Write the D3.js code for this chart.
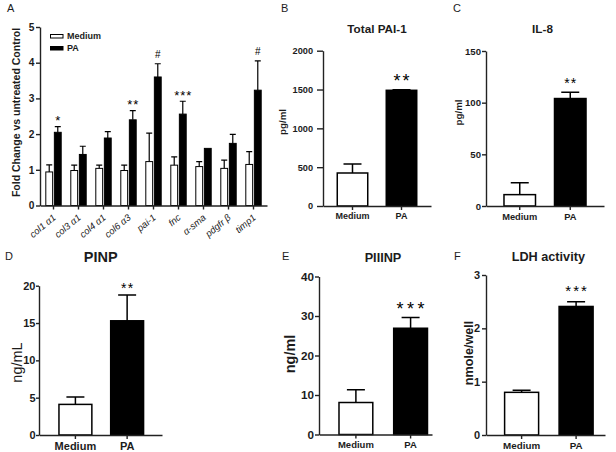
<!DOCTYPE html>
<html><head><meta charset="utf-8">
<script src="https://cdn.jsdelivr.net/npm/d3@7"></script>
<style>
body{margin:0;background:#fff}
svg{display:block}
text{font-family:"Liberation Sans",Arial,Helvetica,sans-serif;fill:#1c1c1c}
text.sig{fill:#000}
</style>
</head><body>
<svg id="c" width="616" height="452"></svg>
<script>
// ---------- DATA ----------
const groups = ["Medium", "PA"];

// Panel A: gene expression (fold change)
const geneLabels = ["col1 α1", "col3 α1", "col4 α1", "col6 α3", "pai-1", "fnc", "α-sma", "pdgfr β", "timp1"];
const geneMedium = [0.94, 0.98, 1.04, 0.98, 1.23, 1.13, 1.09, 1.04, 1.15];
const geneMediumErr = [0.20, 0.15, 0.09, 0.15, 0.80, 0.23, 0.14, 0.23, 0.36];
const genePA = [2.05, 1.43, 1.89, 2.40, 3.60, 2.56, 1.60, 1.74, 3.23];
const genePAErr = [0.16, 0.23, 0.18, 0.26, 0.37, 0.36, 0.0, 0.25, 0.82];
const geneSig = ["*", "", "", "**", "#", "***", "", "", "#"];
const geneTicks = [0, 1, 2, 3, 4, 5];

// Panel B: Total PAI-1
const paiValues = [425, 1490];
const paiErr = [115, 6];
const paiTicks = [0, 500, 1000, 1500, 2000];

// Panel C: IL-8
const il8Values = [11, 104];
const il8Err = [11.5, 6];
const il8Ticks = [0, 50, 100, 150];

// Panel D: PINP
const pinpValues = [4.1, 15.3];
const pinpErr = [1.0, 3.45];
const pinpTicks = [0, 5, 10, 15, 20];

// Panel E: PIIINP
const piiinpValues = [8.1, 26.9];
const piiinpErr = [3.2, 2.7];
const piiinpTicks = [0, 10, 20, 30, 40];

// Panel F: LDH activity
const ldhValues = [0.80, 2.41];
const ldhErr = [0.04, 0.09];
const ldhTicks = [0, 1, 2, 3];

// ---------- DRAW ----------
const svg = d3.select("#c");
const AX = "#222";
const fmt = d3.format("d");

function styleAxis(g, sw) {
  g.select(".domain").attr("stroke", AX).attr("stroke-width", sw);
  g.selectAll(".tick line").attr("stroke", AX).attr("stroke-width", sw);
}

function panelLetter(t, x, y) {
  svg.append("text").attr("x", x).attr("y", y).attr("font-size", 11).attr("fill", "#333").text(t);
}

// ---- Panel A ----
(function () {
  const g = svg.append("g");
  const x = d3.scaleBand().domain(geneLabels).range([40, 267]).paddingInner(0.384).paddingOuter(0.232);
  const xs = d3.scaleBand().domain(groups).range([0, x.bandwidth()]).paddingInner(0.2);
  const y = d3.scaleLinear().domain([0, 5]).range([205.5, 27]);
  const rows = geneLabels.map((k, i) => ({ k, vals: [geneMedium[i], genePA[i]], errs: [geneMediumErr[i], genePAErr[i]], sig: geneSig[i] }));
  const grp = g.selectAll("g.grp").data(rows).join("g").attr("transform", d => `translate(${x(d.k)},0)`);
  const bars = grp.selectAll("g.b").data(d => groups.map((s, j) => ({ s, v: d.vals[j], e: d.errs[j] }))).join("g");
  bars.append("rect")
    .attr("x", d => xs(d.s)).attr("width", xs.bandwidth())
    .attr("y", d => y(d.v)).attr("height", d => y(0) - y(d.v))
    .attr("fill", d => d.s === "PA" ? "#000" : "#fff").attr("stroke", "#000").attr("stroke-width", 1);
  bars.filter(d => d.e > 0).append("path")
    .attr("d", d => {
      const cx = xs(d.s) + xs.bandwidth() / 2;
      return `M${cx},${y(d.v)}V${y(d.v + d.e)}M${cx - 3},${y(d.v + d.e)}H${cx + 3}`;
    })
    .attr("stroke", "#000").attr("stroke-width", 1.2).attr("fill", "none");
  grp.filter(d => d.sig).append("text").attr("class", "sig")
    .attr("x", d => xs("PA") + xs.bandwidth() / 2 + (d.sig === "#" ? 0 : 0.5))
    .attr("y", d => y(d.vals[1] + d.errs[1]) - (d.sig === "#" ? 5.5 : 1.5))
    .attr("text-anchor", "middle")
    .attr("font-size", d => d.sig === "#" ? 10 : 13)
    .attr("letter-spacing", d => d.sig === "#" ? 0 : 1)
    .text(d => d.sig);

  const ya = g.append("g").attr("transform", "translate(40,0)")
    .call(d3.axisLeft(y).tickValues(geneTicks).tickFormat(fmt).tickSize(4).tickSizeOuter(0).tickPadding(1.5));
  ya.selectAll("text").attr("font-size", 10.2).attr("font-weight", "bold");
  styleAxis(ya, 1.4);
  const xa = g.append("g").attr("transform", "translate(0,205.5)")
    .call(d3.axisBottom(x).tickSize(4).tickSizeOuter(0));
  styleAxis(xa, 1.4);
  xa.selectAll(".tick text")
    .attr("y", 0).attr("dy", 0)
    .attr("font-size", 9.5).attr("font-style", "italic")
    .attr("text-anchor", "end")
    .attr("transform", "translate(3,13) rotate(-40)");

  g.append("text").attr("transform", "translate(16,112.5) rotate(-90)")
    .attr("text-anchor", "middle").attr("dy", "0.35em")
    .attr("font-size", 10.5).attr("font-weight", "bold").text("Fold Change vs untreated Control");

  // legend
  const lg = g.append("g");
  lg.selectAll("rect").data(groups).join("rect")
    .attr("x", 50.5).attr("y", (d, i) => 34.5 + i * 12).attr("width", 12.5).attr("height", 3.5)
    .attr("fill", d => d === "PA" ? "#000" : "#fff").attr("stroke", "#000").attr("stroke-width", 1);
  lg.selectAll("text").data(groups).join("text")
    .attr("x", 67).attr("y", (d, i) => 39 + i * 11.7)
    .attr("font-size", 9).attr("font-weight", "bold").text(d => d);

  panelLetter("A", 7, 12);
})();

// ---- Two-bar panels ----
function twoBar(cfg) {
  const g = svg.append("g");
  const x = d3.scaleBand().domain(groups).range([cfg.x0, cfg.x1])
    .paddingInner(cfg.pi).paddingOuter(cfg.po).align(cfg.align);
  const y = d3.scaleLinear().domain([0, d3.max(cfg.ticks)]).range([cfg.yb, cfg.yt]);
  const data = groups.map((s, i) => ({ s, v: cfg.values[i], e: cfg.errs[i] }));
  g.selectAll("rect").data(data).join("rect")
    .attr("x", d => x(d.s)).attr("width", x.bandwidth())
    .attr("y", d => y(d.v)).attr("height", d => y(0) - y(d.v))
    .attr("fill", d => d.s === "PA" ? "#000" : "#fff").attr("stroke", "#000").attr("stroke-width", 1.5);
  g.selectAll("path.err").data(data).join("path")
    .attr("d", d => {
      const cx = x(d.s) + x.bandwidth() / 2;
      return `M${cx},${y(d.v)}V${y(d.v + d.e)}M${cx - 9},${y(d.v + d.e)}H${cx + 9}`;
    })
    .attr("stroke", "#000").attr("stroke-width", 1.5).attr("fill", "none");
  // significance
  const pa = data[1];
  g.append("text").attr("class", "sig")
    .attr("x", x("PA") + x.bandwidth() / 2 + cfg.sigLs / 2)
    .attr("y", y(pa.v + pa.e) + cfg.sigDy)
    .attr("text-anchor", "middle")
    .attr("font-size", cfg.sigFs).attr("letter-spacing", cfg.sigLs)
    .text(cfg.sig);

  const ya = g.append("g").attr("transform", `translate(${cfg.x0},0)`)
    .call(d3.axisLeft(y).tickValues(cfg.ticks).tickFormat(fmt).tickSize(cfg.tick).tickSizeOuter(0).tickPadding(cfg.tpad));
  ya.selectAll("text").attr("font-size", cfg.tickFs).attr("font-weight", "bold");
  styleAxis(ya, 1.4);
  const xa = g.append("g").attr("transform", `translate(0,${cfg.yb})`)
    .call(d3.axisBottom(x).tickSize(4).tickSizeOuter(0).tickPadding(cfg.xpad));
  xa.selectAll("text").attr("font-size", cfg.xFs).attr("font-weight", "bold");
  styleAxis(xa, 1.4);

  g.append("text").attr("x", cfg.titleX).attr("y", cfg.titleY).attr("text-anchor", "middle")
    .attr("font-size", cfg.titleFs).attr("font-weight", "bold").text(cfg.title);
  g.append("text").attr("transform", `translate(${cfg.ylX},${cfg.ylY}) rotate(-90)`)
    .attr("text-anchor", "middle").attr("dy", "0.3em")
    .attr("font-size", cfg.ylFs).attr("font-weight", cfg.ylBold ? "bold" : "normal").text(cfg.ylabel);
  panelLetter(cfg.letter, cfg.lx, cfg.ly);
}

twoBar({ letter: "B", lx: 281, ly: 12, title: "Total PAI-1", titleX: 377, titleY: 32.5, titleFs: 11.7,
  ylabel: "pg/ml", ylX: 283, ylY: 122, ylFs: 9.8, ylBold: true,
  values: paiValues, errs: paiErr, ticks: paiTicks, sig: "**", sigFs: 18, sigLs: 2, sigDy: -2.5,
  x0: 323, x1: 431, pi: 0.378, po: 0.291, align: 0.5, yb: 206, yt: 50.7,
  tick: 6, tpad: 4, tickFs: 9.2, xFs: 9, xpad: 3 });

twoBar({ letter: "C", lx: 453, ly: 12, title: "IL-8", titleX: 542.5, titleY: 32.5, titleFs: 11.7,
  ylabel: "pg/ml", ylX: 459, ylY: 112.5, ylFs: 9.8, ylBold: true,
  values: il8Values, errs: il8Err, ticks: il8Ticks, sig: "**", sigFs: 14, sigLs: 1, sigDy: -4.4,
  x0: 486, x1: 604, pi: 0.376, po: 0.356, align: 0.5, yb: 206, yt: 51,
  tick: 4, tpad: 1, tickFs: 9.6, xFs: 9.3, xpad: 3 });

twoBar({ letter: "D", lx: 5, ly: 259.5, title: "PINP", titleX: 100.7, titleY: 262, titleFs: 14.5,
  ylabel: "ng/mL", ylX: 18, ylY: 362.5, ylFs: 14.5, ylBold: false,
  values: pinpValues, errs: pinpErr, ticks: pinpTicks, sig: "**", sigFs: 14, sigLs: 1.5, sigDy: -2.3,
  x0: 39, x1: 162, pi: 0.364, po: 0.371, align: 0.52, yb: 435, yt: 285.7,
  tick: 3, tpad: 0.5, tickFs: 11, xFs: 11, xpad: 3 });

twoBar({ letter: "E", lx: 282, ly: 259.5, title: "PIIINP", titleX: 383, titleY: 261.7, titleFs: 12.7,
  ylabel: "ng/ml", ylX: 291, ylY: 354, ylFs: 14.4, ylBold: true,
  values: piiinpValues, errs: piiinpErr, ticks: piiinpTicks, sig: "***", sigFs: 18, sigLs: 3.5, sigDy: -2.8,
  x0: 319, x1: 432, pi: 0.382, po: 0.224, align: 0.816, yb: 434.5, yt: 276.5,
  tick: 4, tpad: 1, tickFs: 11.7, xFs: 9.5, xpad: 3 });

twoBar({ letter: "F", lx: 454, ly: 259.5, title: "LDH activity", titleX: 548.3, titleY: 260.8, titleFs: 12.7,
  ylabel: "nmole/well", ylX: 469.5, ylY: 353, ylFs: 12.6, ylBold: true,
  values: ldhValues, errs: ldhErr, ticks: ldhTicks, sig: "***", sigFs: 15, sigLs: 2, sigDy: -5.7,
  x0: 486, x1: 605, pi: 0.376, po: 0.28, align: 0.61, yb: 435, yt: 275,
  tick: 4, tpad: 2, tickFs: 11, xFs: 9.8, xpad: 3 });
</script>
</body></html>
